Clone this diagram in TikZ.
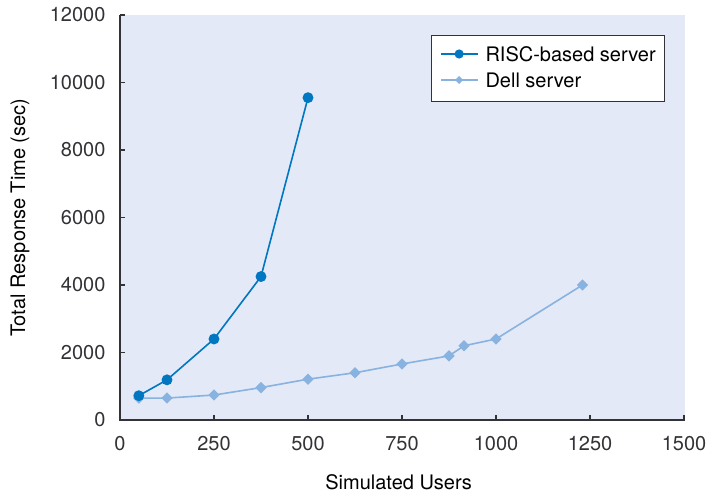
\documentclass[tikz,border=0pt]{standalone}
\usepackage{fontspec}
\setmainfont{TeX Gyre Heros}
\usetikzlibrary{plotmarks}
\definecolor{fond}{RGB}{227,233,247}
\definecolor{risc}{RGB}{0,119,192}
\definecolor{dell}{RGB}{136,178,224}
\definecolor{axe}{RGB}{50,50,55}
\begin{document}
\begin{tikzpicture}[x=0.188pt,y=0.016875pt,font=\fontsize{10}{12}\selectfont] % 1 unite = 1 utilisateur / 1 seconde
\useasboundingbox (-60pt,-37.5pt) rectangle (293pt,210pt);
\fill[fond] (0,0) rectangle (1503,12000); % le fond du graphique
\draw[color=axe,semithick] (0,12000)--(0,0)--(1503,0); % les axes
% les graduations de l'axe des ordonnees
\draw[color=axe,semithick] (0,0)--++(2.5pt,0) node[pos=0,left=7pt,inner sep=0] {0};
\draw[color=axe,semithick] (0,2000)--++(2.5pt,0) node[pos=0,left=7pt,inner sep=0] {2000};
\draw[color=axe,semithick] (0,4000)--++(2.5pt,0) node[pos=0,left=7pt,inner sep=0] {4000};
\draw[color=axe,semithick] (0,6000)--++(2.5pt,0) node[pos=0,left=7pt,inner sep=0] {6000};
\draw[color=axe,semithick] (0,8000)--++(2.5pt,0) node[pos=0,left=7pt,inner sep=0] {8000};
\draw[color=axe,semithick] (0,10000)--++(2.5pt,0) node[pos=0,left=7pt,inner sep=0] {10000};
\draw[color=axe,semithick] (0,12000)--++(2.5pt,0) node[pos=0,left=7pt,inner sep=0] {12000};
% les graduations de l'axe des abscisses
\draw[color=axe,semithick] (0,0)--++(0,2.5pt) node[pos=0,below=8pt,inner sep=0] {0};
\draw[color=axe,semithick] (250,0)--++(0,2.5pt) node[pos=0,below=8pt,inner sep=0] {250};
\draw[color=axe,semithick] (500,0)--++(0,2.5pt) node[pos=0,below=8pt,inner sep=0] {500};
\draw[color=axe,semithick] (750,0)--++(0,2.5pt) node[pos=0,below=8pt,inner sep=0] {750};
\draw[color=axe,semithick] (1000,0)--++(0,2.5pt) node[pos=0,below=8pt,inner sep=0] {1000};
\draw[color=axe,semithick] (1250,0)--++(0,2.5pt) node[pos=0,below=8pt,inner sep=0] {1250};
\draw[color=axe,semithick] (1500,0)--++(0,2.5pt) node[pos=0,below=8pt,inner sep=0] {1500};
% les titres des axes
\node (titrex) at (741,-31pt) {Simulated Users};
\node[rotate=90] (titrey) at (-50pt,6000) {Total Response Time (sec)};
% les courbes
\draw[color=dell,line width=0.8pt,mark=square*,mark size=1.6pt,mark options={fill=dell,rotate=45}] plot coordinates {(50,650) (125,650) (250,740) (375,960) (500,1210) (625,1400) (750,1660) (875,1900) (915,2200) (1000,2400) (1230,4000)};
\draw[color=risc,line width=0.8pt,mark=*,mark size=2.3pt,mark options={fill=risc}] plot coordinates {(50,720) (125,1190) (250,2400) (375,4250) (500,9550)};
% la legende
\draw[color=axe,fill=white] (827,9452) rectangle (1449,11407);
\draw[color=risc,line width=0.8pt] (854,10844)--(952,10844);
\fill[risc] (902,10844) circle (2.3pt);
\node[anchor=west,inner sep=0] (legrisc) at (971,10844) {RISC-based server};
\draw[color=dell,line width=0.8pt] (854,10074)--(952,10074);
\fill[dell] (902,10074) +(0,2pt)--+(2pt,0)--+(0,-2pt)--+(-2pt,0)--cycle;
\node[anchor=west,inner sep=0] (legdell) at (971,10074) {Dell server};
\end{tikzpicture}
\end{document}
